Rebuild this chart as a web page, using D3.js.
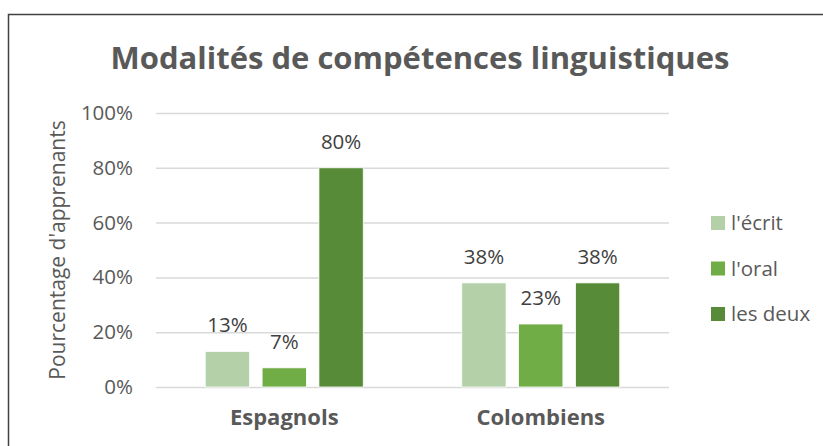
<!DOCTYPE html>
<html><head><meta charset="utf-8">
<script src="https://cdn.jsdelivr.net/npm/d3@7"></script>
<style>html,body{margin:0;padding:0;background:#fff;overflow:hidden}</style>
</head><body>
<svg id="c" width="823" height="446"></svg>
<script>
const title = "Modalités de compétences linguistiques";
const yTitle = "Pourcentage d'apprenants";
const categories = ["Espagnols", "Colombiens"];
const seriesNames = ["l'écrit", "l'oral", "les deux"];
const ecrit = [13, 38];
const oral = [7, 23];
const deux = [80, 38];
const yTicks = [0, 20, 40, 60, 80, 100];
const colors = ["#b4d0a8", "#70ad47", "#578b37"];

const seriesValues = [ecrit, oral, deux];
const svg = d3.select("#c");
const font = "'Open Sans', sans-serif";

svg.append("rect").attr("x", 8.5).attr("y", 14.5).attr("width", 900).attr("height", 600)
  .attr("fill", "#fff").attr("stroke", "#404040").attr("stroke-width", 1.5);

const plot = {left: 156, right: 669, top: 113, bottom: 387};
const y = d3.scaleLinear().domain([0, 100]).range([plot.bottom, plot.top]);
const x0 = d3.scaleBand().domain(categories).range([plot.left, plot.right]).padding(0);
const groupW = 158;

// gridlines
const grid = svg.append("g").call(d3.axisLeft(y).tickValues(yTicks).tickSize(-(plot.right - plot.left)).tickFormat(""))
  .attr("transform", `translate(${plot.left},0)`);
grid.select(".domain").remove();
grid.selectAll("line").attr("stroke", "#d9d9d9").attr("stroke-width", 1.5);

// tick labels
const yl = svg.append("g").attr("transform", `translate(${plot.left},0)`)
  .call(d3.axisLeft(y).tickValues(yTicks).tickSize(0).tickPadding(23).tickFormat(d => d + "%"));
yl.select(".domain").remove();
yl.selectAll("text").attr("font-family", font).attr("font-size", 20.5).attr("fill", "#595959");

// bars
categories.forEach((cat, ci) => {
  const c = x0(cat) + x0.bandwidth() / 2;
  const x1 = d3.scaleBand().domain(seriesNames).range([c - groupW / 2, c + groupW / 2]).paddingInner(0.22).paddingOuter(0);
  seriesNames.forEach((s, si) => {
    const v = seriesValues[si][ci];
    svg.append("rect").attr("x", x1(s)).attr("y", y(v)).attr("width", x1.bandwidth())
      .attr("height", y(0) - y(v)).attr("fill", colors[si]).attr("stroke", "#fff").attr("stroke-width", 0.8);
    svg.append("text").attr("x", x1(s) + x1.bandwidth() / 2).attr("y", y(v) - 19)
      .attr("text-anchor", "middle").attr("font-family", font).attr("font-size", 20.5)
      .attr("fill", "#404040").text(v + "%");
  });
});

// category axis labels
const xa = svg.append("g").attr("transform", `translate(0,${plot.bottom})`)
  .call(d3.axisBottom(x0).tickSize(0).tickPadding(22));
xa.select(".domain").remove();
xa.selectAll("text").attr("font-family", font).attr("font-size", 22).attr("font-weight", "bold").attr("fill", "#595959");

// title
svg.append("text").attr("x", 420).attr("y", 69).attr("text-anchor", "middle")
  .attr("font-family", font).attr("font-size", 31).attr("font-weight", "bold").attr("fill", "#595959").text(title);

// y title
svg.append("text").attr("transform", "translate(65,250) rotate(-90)").attr("text-anchor", "middle")
  .attr("font-family", font).attr("font-size", 21).attr("fill", "#595959").text(yTitle);

// legend
const lg = svg.append("g");
const rowY = [223, 268.5, 314];
seriesNames.forEach((s, i) => {
  lg.append("rect").attr("x", 711).attr("y", rowY[i] - 7).attr("width", 14).attr("height", 14).attr("fill", colors[i]);
  lg.append("text").attr("x", 731).attr("y", rowY[i]).attr("dy", "0.35em").attr("font-family", font)
    .attr("font-size", 20.5).attr("fill", "#595959").text(s);
});
</script>
</body></html>
